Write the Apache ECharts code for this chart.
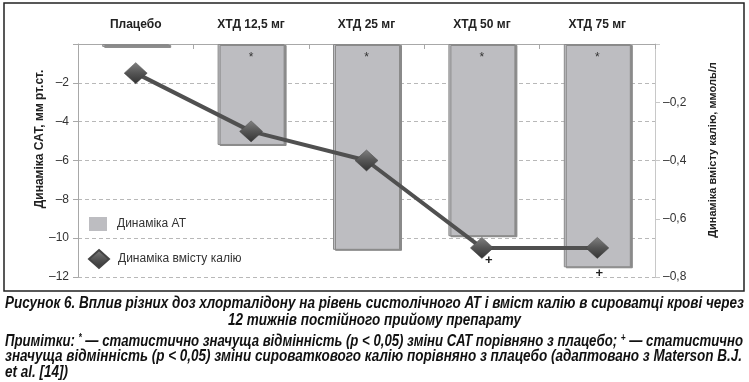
<!DOCTYPE html>
<html><head><meta charset="utf-8">
<script src="https://cdn.jsdelivr.net/npm/echarts@6/dist/echarts.min.js"></script>
<style>html,body{margin:0;padding:0;background:#fff}#c{width:749px;height:382px}</style>
</head><body><div id="c"></div>
<script>
const categories = ['Плацебо', 'ХТД 12,5 мг', 'ХТД 25 мг', 'ХТД 50 мг', 'ХТД 75 мг'];
const bpChange = [-0.15, -5.2, -10.6, -9.9, -11.5];
const potassiumChange = [-0.1, -0.3, -0.4, -0.7, -0.7];
const bpMarks = ['', '*', '*', '*', '*'];
const kMarks = ['', '', '', '+', '+'];
const leftTicks = [-12, -10, -8, -6, -4, -2];
const rightTicks = [-0.8, -0.6, -0.4, -0.2];
const seriesNames = ['Динаміка АТ', 'Динаміка вмісту калію'];
const axisNames = ['Динаміка САТ, мм рт.ст.', 'Динаміка вмісту калію, ммоль/л'];
const captionLines = [
  'Рисунок 6. Вплив різних доз хлорталідону на рівень систолічного АТ і вміст калію в сироватці крові через',
  '12 тижнів постійного прийому препарату'
];
const noteLines = [
  ['Примітки: ', '*', ' — статистично значуща відмінність (р < 0,05) зміни САТ порівняно з плацебо; ', '+', ' — статистично'],
  ['значуща відмінність (р < 0,05) зміни сироваткового калію порівняно з плацебо (адаптовано з Materson B.J.'],
  ['et al. [14])']
];

const chart = echarts.init(document.getElementById('c'), null, {renderer: 'canvas'});
const capFont = '"Liberation Sans", Arial, sans-serif';
const CAP_SIZE = 16, SUP_SIZE = 10;
const fmtMinus = v => v === 0 ? '' : '\u2013' + String(Math.abs(+v.toFixed(2))).replace('.', ',');

// measure text widths to emulate the condensed caption typeface
const mctx = document.createElement('canvas').getContext('2d');
function measure(parts) {
  let w = 0;
  parts.forEach(p => {
    const sup = (p === '*' || p === '+');
    mctx.font = 'italic bold ' + (sup ? SUP_SIZE : CAP_SIZE) + 'px "Liberation Sans", Arial, sans-serif';
    w += mctx.measureText(p).width;
  });
  return w;
}
const baseScale = 739 / measure([captionLines[0]]);
const noteScales = [738 / measure(noteLines[0]), 737 / measure(noteLines[1]), baseScale];

const diamondColor = new echarts.graphic.LinearGradient(0, 0, 0, 1, [
  {offset: 0, color: '#808080'}, {offset: 0.5, color: '#555555'}, {offset: 1, color: '#333333'}
]);

function noteRich(parts) {
  return parts.map(p => (p === '*' || p === '+') ? '{s|' + p + '}' : '{n|' + p + '}').join('');
}
const capStyle = {fontFamily: capFont, fontSize: CAP_SIZE, fontWeight: 'bold', fontStyle: 'italic', fill: '#111'};

const option = {
  animation: false,
  grid: {left: 78, right: 94, top: 44, bottom: 105},
  legend: [
    {data: [{name: seriesNames[0], icon: 'rect', itemStyle: {borderWidth: 0, shadowBlur: 0, shadowOffsetX: 0, shadowOffsetY: 0, shadowColor: 'transparent'}}],
     left: 89, top: 217, padding: 0, orient: 'vertical', itemWidth: 18, itemHeight: 14,
     textStyle: {fontFamily: 'Liberation Sans, Arial', fontSize: 12, color: '#333', padding: [0, 0, 0, 5]}},
    {data: [{name: seriesNames[1], icon: 'diamond'}], left: 88, top: 249, padding: 0, orient: 'vertical', itemWidth: 20, itemHeight: 18,
     textStyle: {fontFamily: 'Liberation Sans, Arial', fontSize: 12, color: '#333', padding: [0, 0, 0, 4]}}
  ],
  xAxis: {
    type: 'category', data: categories, position: 'top',
    axisLine: {show: true, lineStyle: {color: '#a8a8a8', width: 1}},
    axisTick: {show: true, inside: true, length: 5, lineStyle: {color: '#a8a8a8'}},
    axisLabel: {margin: 13, fontFamily: 'Liberation Sans, Arial', fontSize: 12, fontWeight: 'bold', color: '#222'},
    splitLine: {show: false}
  },
  yAxis: [
    {type: 'value', min: -12, max: 0, interval: 2, position: 'left',
     axisLine: {show: true, lineStyle: {color: '#a8a8a8'}},
     axisTick: {show: true, length: 5, lineStyle: {color: '#a8a8a8'}},
     axisLabel: {margin: 9, formatter: fmtMinus, fontFamily: 'Liberation Sans, Arial', fontSize: 12, color: '#333'},
     splitLine: {show: true, lineStyle: {color: '#b8b8b8', type: [4, 3], width: 1}}},
    {type: 'value', min: -0.8, max: 0, interval: 0.2, position: 'right',
     axisLine: {show: true, lineStyle: {color: '#c8c8c8'}},
     axisTick: {show: true, length: 5, lineStyle: {color: '#c8c8c8'}},
     axisLabel: {margin: 8, formatter: fmtMinus, fontFamily: 'Liberation Sans, Arial', fontSize: 12, color: '#333'},
     splitLine: {show: false}}
  ],
  series: [
    {name: seriesNames[0], type: 'bar', yAxisIndex: 0, barWidth: 67, z: 2,
     data: bpChange.map((v, i) => ({value: v, label: {show: bpMarks[i] !== '', formatter: bpMarks[i]}})),
     itemStyle: {color: '#bdbdc1', borderColor: '#8a8a8a', borderWidth: 1,
                 shadowColor: '#8a8a8a', shadowOffsetX: 2, shadowOffsetY: 1, shadowBlur: 0},
     label: {position: 'insideTop', distance: 8, fontFamily: 'Liberation Sans, Arial', fontSize: 12, color: '#333'}},
    {name: seriesNames[1], type: 'line', yAxisIndex: 1, z: 5,
     symbol: 'diamond', symbolSize: [23, 21],
     lineStyle: {color: '#505050', width: 4},
     itemStyle: {color: diamondColor, borderColor: '#444', borderWidth: 0.5},
     data: potassiumChange.map((v, i) => ({value: v, label: {show: kMarks[i] !== '', formatter: kMarks[i],
        offset: i === 4 ? [2, 26] : [7, 13]}})),
     label: {position: 'inside', fontFamily: 'Liberation Sans, Arial', fontSize: 13, fontWeight: 'bold', color: '#222'}}
  ],
  graphic: [
    {type: 'rect', shape: {x: 4, y: 3, width: 740, height: 288}, style: {fill: 'none', stroke: '#222', lineWidth: 1.5}, z: 10},
    {type: 'text', x: 40, y: 139, rotation: Math.PI / 2,
     style: {text: axisNames[0], align: 'center', verticalAlign: 'middle', fontFamily: 'Liberation Sans, Arial', fontSize: 12, fontWeight: 'bold', fill: '#222'}},
    {type: 'text', x: 713, y: 150, rotation: Math.PI / 2,
     style: {text: axisNames[1], align: 'center', verticalAlign: 'middle', fontFamily: 'Liberation Sans, Arial', fontSize: 11, fontWeight: 'bold', fill: '#222'}},
    {type: 'text', x: 374.5, y: 303.5, scaleX: baseScale, style: Object.assign({text: captionLines[0], align: 'center', verticalAlign: 'middle'}, capStyle)},
    {type: 'text', x: 374.5, y: 320.5, scaleX: baseScale, style: Object.assign({text: captionLines[1], align: 'center', verticalAlign: 'middle'}, capStyle)},
    ...noteLines.map((parts, k) => ({type: 'text', x: 5, y: 341.5 + k * 15.5, scaleX: noteScales[k],
      style: Object.assign({text: noteRich(parts), align: 'left', verticalAlign: 'middle',
        rich: {n: {fontFamily: capFont, fontSize: CAP_SIZE, fontWeight: 'bold', fontStyle: 'italic', color: '#111'},
               s: {fontFamily: capFont, fontSize: SUP_SIZE, fontWeight: 'bold', fontStyle: 'italic', color: '#111', verticalAlign: 'top', lineHeight: 15}}}, capStyle)}))
  ]
};
chart.setOption(option);
</script></body></html>
